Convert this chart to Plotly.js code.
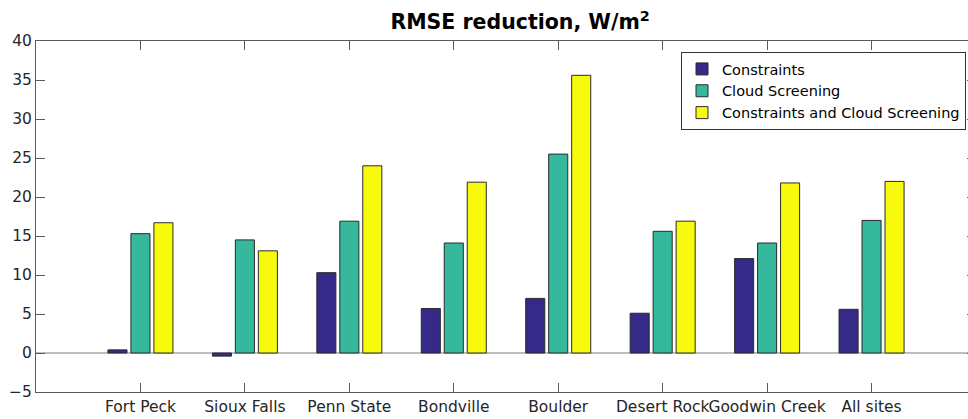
<!DOCTYPE html>
<html>
<head>
<meta charset="utf-8">
<script src="https://cdn.plot.ly/plotly-3.0.1.min.js"></script>
<style>
html, body { margin: 0; padding: 0; overflow: hidden; background: #fff; }
#chart { width: 990px; height: 419px; }
</style>
</head>
<body>
<div id="chart"></div>
<script>
const sites = ["Fort Peck", "Sioux Falls", "Penn State", "Bondville", "Boulder", "Desert Rock", "Goodwin Creek", "All sites"];
const constraints = [0.4, -0.4, 10.3, 5.7, 7.0, 5.1, 12.1, 5.6];
const cloudScreening = [15.3, 14.5, 16.9, 14.1, 25.5, 15.6, 14.1, 17.0];
const both = [16.7, 13.1, 24.0, 21.9, 35.6, 16.9, 21.8, 22.0];
const seriesNames = ["Constraints", "Cloud Screening", "Constraints and Cloud Screening"];
const seriesColors = ["#352a87", "#36b89c", "#f8fa0d"];
const yTicks = [-5, 0, 5, 10, 15, 20, 25, 30, 35, 40];

const allSeries = [constraints, cloudScreening, both];
const traces = allSeries.map((vals, i) => ({
  type: "bar",
  name: seriesNames[i],
  x: sites,
  y: vals,
  marker: { color: seriesColors[i], line: { color: "#2a2a2a", width: 1 } },
  hoverinfo: "x+y+name"
}));

const axisCommon = {
  showline: true,
  linecolor: "#5a5a5a",
  linewidth: 1,
  mirror: "ticks",
  ticks: "inside",
  ticklen: 9,
  tickcolor: "#5a5a5a",
  tickwidth: 1,
  showgrid: false,
  tickfont: { family: "DejaVu Sans", size: 15.5, color: "#262626" }
};

const layout = {
  width: 990,
  height: 419,
  margin: { l: 36, r: 14, t: 41, b: 27 },
  paper_bgcolor: "#fff",
  plot_bgcolor: "#fff",
  font: { family: "DejaVu Sans", color: "#262626" },
  title: {
    text: "<b>RMSE reduction, W/m<sup>2</sup></b>",
    font: { family: "DejaVu Sans", size: 20.5, color: "#000" },
    x: 0.515, xref: "paper", xanchor: "center",
    y: 1 - 22 / 419, yref: "container", yanchor: "middle"
  },
  barmode: "group",
  bargap: 0.34,
  bargroupgap: 0.17,
  xaxis: Object.assign({}, axisCommon, {
    type: "category",
    range: [-1, 8],
    zeroline: false,
    tickangle: 0,
    automargin: false
  }),
  yaxis: Object.assign({}, axisCommon, {
    range: [-5, 40],
    tickvals: yTicks,
    ticktext: yTicks.map(v => v < 0 ? "\u2212" + Math.abs(v) : String(v)),
    zeroline: true,
    zerolinecolor: "#bdbdbd",
    zerolinewidth: 1.5,
    automargin: false
  }),
  showlegend: true,
  legend: {
    x: (966 - 36) / 940, xanchor: "right",
    y: (392 - 52) / 351, yanchor: "top",
    bgcolor: "#fff",
    bordercolor: "#333",
    borderwidth: 1,
    font: { family: "DejaVu Sans", size: 14.5, color: "#000" },
    tracegroupgap: 0,
    itemwidth: 30
  }
};

Plotly.newPlot("chart", traces, layout, { displayModeBar: false, staticPlot: true });
</script>
</body>
</html>
